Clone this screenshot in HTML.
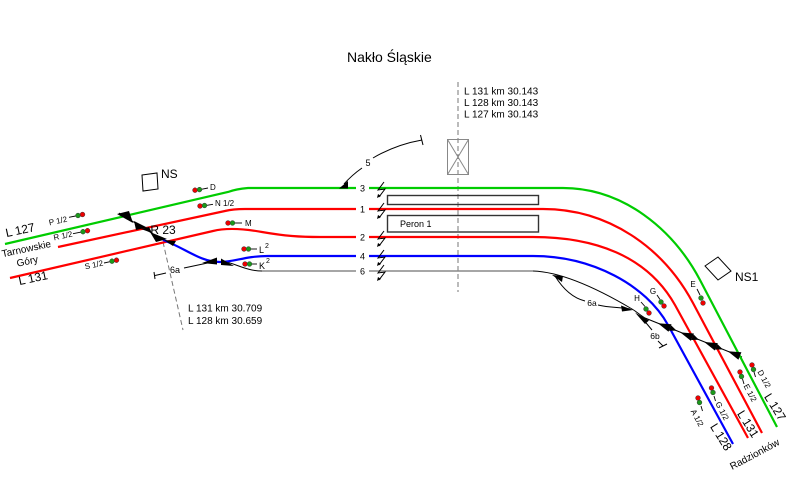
<!DOCTYPE html>
<html><head><meta charset="utf-8">
<style>
html,body{margin:0;padding:0;background:#fff;}
svg{display:block;}
text{font-family:"Liberation Sans",Arial,sans-serif;fill:#000;}
</style></head>
<body>
<svg width="789" height="492" viewBox="0 0 789 492" xmlns="http://www.w3.org/2000/svg">
<rect width="789" height="492" fill="#fff"/>

<!-- Title -->
<text x="347" y="62" font-size="14">Nakło Śląskie</text>

<!-- km labels top -->
<text x="464" y="94.5" font-size="10">L 131 km 30.143</text>
<text x="464" y="106" font-size="10">L 128 km 30.143</text>
<text x="464" y="117.5" font-size="10">L 127 km 30.143</text>

<!-- dashed lines -->
<line x1="458" y1="82" x2="458" y2="292" stroke="#777" stroke-width="1" stroke-dasharray="5,3"/>
<line x1="163" y1="242" x2="183" y2="330" stroke="#777" stroke-width="1" stroke-dasharray="5,3"/>

<!-- box with X -->
<g stroke="#888" stroke-width="1" fill="none">
<rect x="447.5" y="139.5" width="21" height="35"/>
<line x1="447.5" y1="139.5" x2="468.5" y2="174.5"/>
<line x1="468.5" y1="139.5" x2="447.5" y2="174.5"/>
</g>

<!-- platforms -->
<rect x="387.5" y="195.5" width="151" height="9" fill="none" stroke="#333" stroke-width="1.4"/>
<rect x="387.5" y="215.5" width="151" height="16.5" fill="none" stroke="#333" stroke-width="1.4"/>
<text x="400" y="227" font-size="9">Peron 1</text>

<!-- grey track 6 -->
<path d="M262,271 L533,271" stroke="#888" stroke-width="1.4" fill="none"/>
<!-- black track 6 parts -->
<g stroke="#000" stroke-width="1" fill="none">
<path d="M222,261 C235,263 246,271 262,271"/>
<path d="M533,271 C565,272 605,293 632,309 C637,312 640,315 645,318 L742,357"/>
<path d="M555,276 C563,289 573,298 585,301"/>
<path d="M598,305 C610,308 620,307 630,309"/>
<path d="M642,318 L652,330"/>
<path d="M658,341 L663,346"/>
<path d="M659,348 L667,344"/>
<!-- left 6a -->
<path d="M154,272 L155,279"/>
<path d="M155,275.5 L166,273"/>
<path d="M184,268 L217,261"/>
<!-- left crossover -->
<path d="M119,213 L163,240"/>
<!-- track 5 -->
<path d="M344,184 Q352,175 362,168"/>
<path d="M373,158 C390,148 405,143 422,140"/>
<path d="M420.5,135 L423,145"/>
</g>

<!-- colored tracks -->
<g fill="none" stroke-width="2.2">
<path d="M5,244 L228,192 Q236,189 248,188 L563,188 C623,188 673,229 700,280 L777,427" stroke="#00cc00"/>
<path d="M58,247 L225,211 Q233,209 245,209 L543,209 C608,209 663,247 693,303 L762,433" stroke="#ff0000"/>
<path d="M10,278 L213,231 C225,228 240,228 262,232 C285,236 300,237 320,237 L533,237 C593,237 647,255 675,305 L748,438" stroke="#ff0000"/>
<path d="M163,240 C185,248 200,262 220,262 C235,262 245,256 268,256 L533,256 C592,256 646,285 668,325 L733,444" stroke="#0000ff"/>
</g>

<!-- gaps for numbers -->
<g fill="#fff">
<rect x="356" y="184" width="13" height="8"/>
<rect x="356" y="205" width="13" height="8"/>
<rect x="356" y="233" width="13" height="8"/>
<rect x="356" y="252" width="13" height="8"/>
<rect x="356" y="267" width="13" height="8"/>
</g>
<g font-size="9" text-anchor="middle">
<text x="362.5" y="191.5">3</text>
<text x="362.5" y="212.5">1</text>
<text x="362.5" y="240.5">2</text>
<text x="362.5" y="259.5">4</text>
<text x="362.5" y="274.5">6</text>
</g>

<!-- zigzag symbols -->
<g stroke="#000" stroke-width="1" fill="none">
<polyline points="384,182 378,190 385,189 379,197"/>
<polyline points="384,203 378,211 385,210 379,218"/>
<polyline points="384,231 378,239 385,238 379,246"/>
<polyline points="384,250 378,258 385,257 379,265"/>
<polyline points="384,265 378,273 385,272 379,280"/>
</g>
<g fill="#000">
<polygon points="377,198 378,194 381,196"/>
<polygon points="377,219 378,215 381,217"/>
<polygon points="377,247 378,243 381,245"/>
<polygon points="377,266 378,262 381,264"/>
<polygon points="377,281 378,277 381,279"/>
</g>

<!-- triangles -->
<g fill="#000">
<polygon points="339,188.5 348,188.5 348,181"/>
<polygon points="117,214 129,211 133,223"/>
<polygon points="136,230 147,227.5 134,221"/>
<polygon points="141,229 149,227 152,233"/>
<polygon points="156,242 167,239 150,232"/>
<polygon points="164,240 176,241 173,246"/>
<polygon points="202,263 217,257.5 217,264.5"/>
<polygon points="221,258.5 221,265 234,266"/>
<polygon points="552,275 563,276 562,282"/>
<polygon points="621,305.5 633,310 622,311.5"/>
<polygon points="649,320.5 645,324 635,312.5"/>
<!-- right crossover -->
<polygon points="668.5,331.7 671.5,324.3 657.9,323.2"/>
<polygon points="668.9,330.8 671.1,325.2 676.5,330.6"/>
<polygon points="690.9,340.9 693.9,333.5 680.3,332.4"/>
<polygon points="691.3,340 693.5,334.4 698.9,339.8"/>
<polygon points="714.8,350.5 717.8,343.1 704.2,342"/>
<polygon points="715.2,349.6 717.4,344 722.8,349.4"/>
<polygon points="738.4,359.7 741.4,352.3 727.8,351.2"/>
</g>

<!-- track labels on curves -->
<text x="368" y="166" font-size="9" text-anchor="middle">5</text>
<text x="175" y="273" font-size="9" text-anchor="middle">6a</text>
<text x="592" y="306" font-size="8.5" text-anchor="middle">6a</text>
<text x="655" y="339" font-size="8.5" text-anchor="middle">6b</text>

<text x="163" y="234" font-size="12" text-anchor="middle">R 23</text>

<text x="188" y="311.5" font-size="10">L 131 km 30.709</text>
<text x="188" y="324" font-size="10">L 128 km 30.659</text>

<!-- NS boxes -->
<polygon points="142,175 157,173 158,189 143,191" fill="none" stroke="#000" stroke-width="1"/>
<text x="161" y="178" font-size="12">NS</text>
<polygon points="705,266 718,257 731,271 718,280" fill="none" stroke="#000" stroke-width="1"/>
<text x="735" y="281" font-size="12">NS1</text>

<!-- left labels -->
<text transform="translate(21,234) rotate(-12)" font-size="12" text-anchor="middle">L 127</text>
<text transform="translate(27,252) rotate(-12)" font-size="10" text-anchor="middle">Tarnowskie</text>
<text transform="translate(28,264.5) rotate(-12)" font-size="10" text-anchor="middle">Góry</text>
<text transform="translate(34,282) rotate(-12)" font-size="12" text-anchor="middle">L 131</text>

<!-- right labels -->
<text transform="translate(721,437) rotate(58)" font-size="12" text-anchor="middle" dominant-baseline="central">L 128</text>
<text transform="translate(748,424) rotate(58)" font-size="12" text-anchor="middle" dominant-baseline="central">L 131</text>
<text transform="translate(775,407) rotate(58)" font-size="12" text-anchor="middle" dominant-baseline="central">L 127</text>
<text transform="translate(755,455) rotate(-28)" font-size="10" text-anchor="middle" dominant-baseline="central">Radzionków</text>

<!-- signals -->
<g stroke="#000" stroke-width="0.9">
<line x1="69" y1="217.3" x2="75.5" y2="216"/>
<line x1="73" y1="233.7" x2="80.5" y2="232.2"/>
<line x1="104" y1="263" x2="109.5" y2="261.8"/>
<line x1="202" y1="189.2" x2="208" y2="188"/>
<line x1="207" y1="205.3" x2="213" y2="204.3"/>
<line x1="235" y1="223" x2="242" y2="223"/>
<line x1="251" y1="249" x2="257" y2="249"/>
<line x1="252" y1="264" x2="257" y2="264"/>
<line x1="641" y1="302" x2="645" y2="306.5"/>
<line x1="657" y1="295" x2="660" y2="299.5"/>
<line x1="697" y1="289" x2="700" y2="295"/>
<line x1="754" y1="372" x2="755.5" y2="377"/>
<line x1="742.5" y1="379" x2="744" y2="384"/>
<line x1="714" y1="396" x2="715.5" y2="401"/>
<line x1="701" y1="406" x2="702.5" y2="411"/>
</g>
<g stroke="#333" stroke-width="0.5">
<circle cx="78" cy="215.5" r="2.4" fill="#1a9a1a"/><circle cx="82.5" cy="214.5" r="2.4" fill="#e00"/>
<circle cx="83" cy="231.7" r="2.4" fill="#1a9a1a"/><circle cx="87.5" cy="230.7" r="2.4" fill="#e00"/>
<circle cx="112" cy="261.2" r="2.4" fill="#1a9a1a"/><circle cx="116.5" cy="260.2" r="2.4" fill="#e00"/>
<circle cx="195" cy="190.2" r="2.4" fill="#e00"/><circle cx="199.5" cy="189.6" r="2.4" fill="#1a9a1a"/>
<circle cx="200" cy="206" r="2.4" fill="#e00"/><circle cx="204.5" cy="205.5" r="2.4" fill="#1a9a1a"/>
<circle cx="228" cy="223" r="2.4" fill="#e00"/><circle cx="232.5" cy="223" r="2.4" fill="#1a9a1a"/>
<circle cx="244" cy="249" r="2.4" fill="#e00"/><circle cx="248.5" cy="249" r="2.4" fill="#1a9a1a"/>
<circle cx="245" cy="264" r="2.4" fill="#e00"/><circle cx="249.5" cy="264" r="2.4" fill="#1a9a1a"/>
<circle cx="646" cy="309" r="2.4" fill="#1a9a1a"/><circle cx="649" cy="313" r="2.4" fill="#e00"/>
<circle cx="661" cy="302" r="2.4" fill="#1a9a1a"/><circle cx="664" cy="306" r="2.4" fill="#e00"/>
<circle cx="701" cy="298" r="2.4" fill="#1a9a1a"/><circle cx="703" cy="303" r="2.4" fill="#e00"/>
<circle cx="752" cy="365" r="2.4" fill="#e00"/><circle cx="753.5" cy="369.5" r="2.4" fill="#1a9a1a"/>
<circle cx="740" cy="372" r="2.4" fill="#e00"/><circle cx="741.5" cy="376.5" r="2.4" fill="#1a9a1a"/>
<circle cx="711.5" cy="388" r="2.4" fill="#e00"/><circle cx="713" cy="392.5" r="2.4" fill="#1a9a1a"/>
<circle cx="698" cy="398" r="2.4" fill="#e00"/><circle cx="699.5" cy="402.5" r="2.4" fill="#1a9a1a"/>
</g>
<g font-size="8">
<text transform="translate(58,221) rotate(-12)" text-anchor="middle" dominant-baseline="central">P 1/2</text>
<text transform="translate(63,236) rotate(-12)" text-anchor="middle" dominant-baseline="central">R 1/2</text>
<text transform="translate(94,265) rotate(-12)" text-anchor="middle" dominant-baseline="central">S 1/2</text>
<text x="210" y="190">D</text>
<text x="215" y="206">N 1/2</text>
<text x="245" y="226">M</text>
<text x="259" y="253" font-size="9">L</text><text x="265" y="248" font-size="7">2</text>
<text x="259" y="269" font-size="9">K</text><text x="266" y="263" font-size="7">2</text>
<text x="637" y="301" text-anchor="middle">H</text>
<text x="653" y="294" text-anchor="middle">G</text>
<text x="693" y="287" text-anchor="middle">E</text>
<text transform="translate(764,379) rotate(62)" text-anchor="middle" dominant-baseline="central">D 1/2</text>
<text transform="translate(750,393) rotate(62)" text-anchor="middle" dominant-baseline="central">E 1/2</text>
<text transform="translate(722,411) rotate(62)" text-anchor="middle" dominant-baseline="central">G 1/2</text>
<text transform="translate(697,418) rotate(62)" text-anchor="middle" dominant-baseline="central">A 1/2</text>
</g>
</svg>
</body></html>
